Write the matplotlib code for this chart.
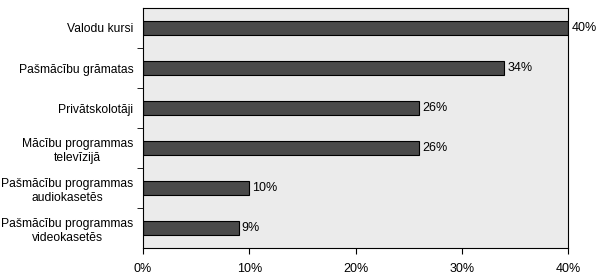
import matplotlib
matplotlib.use("Agg")
import matplotlib.pyplot as plt
import numpy as np

categories = ["Valodu kursi", "Pašmācību grāmatas", "Privātskolotāji",
              "Mācību programmas\ntelevīzijā", "Pašmācību programmas\naudiokasetēs",
              "Pašmācību programmas\nvideokasetēs"]
values = [40, 34, 26, 26, 10, 9]
xticks = [0, 10, 20, 30, 40]
xticklabels = ["0%", "10%", "20%", "30%", "40%"]

plt.rcParams['font.family'] = ['Liberation Sans', 'DejaVu Sans']

fig = plt.figure(figsize=(6, 2.74), dpi=100)
ax = fig.add_axes([143/600, 1-248/274, (568-143)/600, (248-8)/274])
ax.set_facecolor("#ebebeb")

y = np.arange(len(categories))
ax.barh(y, values, height=0.36, color="#4a4a4a", edgecolor="black", linewidth=0.8)
for yi, v in zip(y, values):
    ax.text(v + 0.3, yi, f"{v}%", va="center", ha="left", fontsize=9)

ax.set_xlim(0, 40)
ax.set_ylim(len(categories) - 0.5, -0.5)
ax.set_xticks(xticks)
ax.set_xticklabels(xticklabels, fontsize=9)
ax.set_yticks(y)
ax.set_yticklabels(categories, fontsize=8.7, linespacing=1.3)
for lbl in ax.get_yticklabels():
    lbl.set_multialignment('center')
ax.tick_params(axis='y', length=0, pad=7)
ax.set_yticks(np.arange(len(categories) - 1) + 0.5, minor=True)
ax.tick_params(axis='y', which='minor', length=4, direction='out')
ax.tick_params(axis='x', length=4, direction='out', pad=7)
for s in ax.spines.values():
    s.set_linewidth(0.8)

fig.savefig("out.png", dpi=100)
